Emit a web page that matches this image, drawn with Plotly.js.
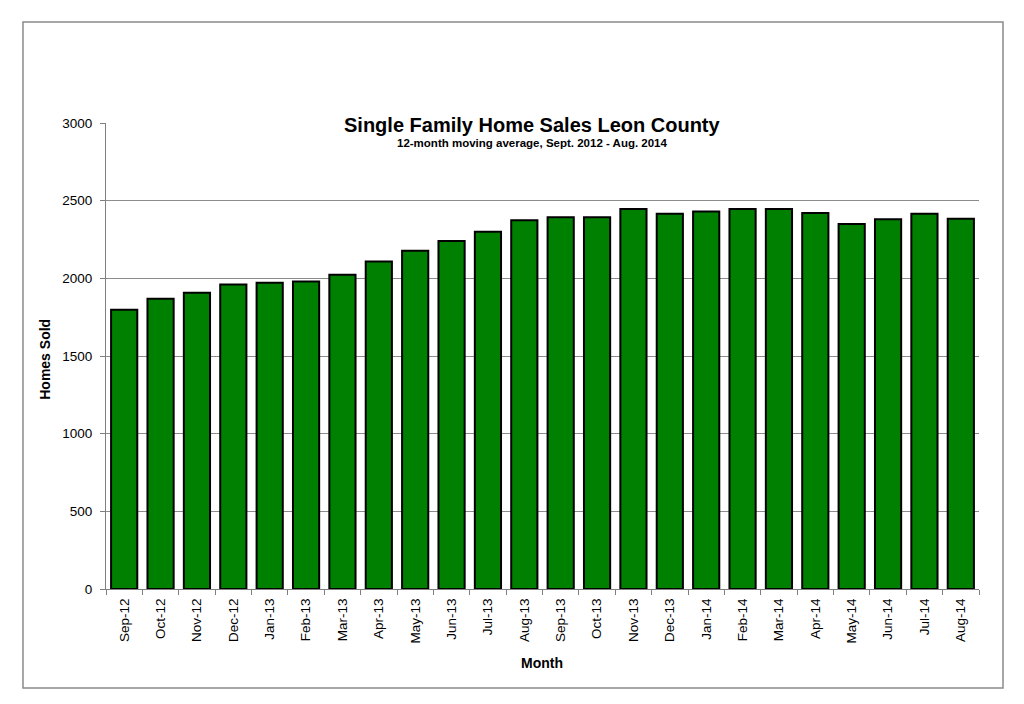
<!DOCTYPE html>
<html>
<head>
<meta charset="utf-8">
<script src="https://cdn.plot.ly/plotly-3.0.1.min.js"></script>
<style>
html,body{margin:0;padding:0;background:#fff;}
#chart{width:1024px;height:704px;}
</style>
</head>
<body>
<div id="chart"></div>
<script>
const months = ["Sep-12","Oct-12","Nov-12","Dec-12","Jan-13","Feb-13","Mar-13","Apr-13","May-13","Jun-13","Jul-13","Aug-13",
                "Sep-13","Oct-13","Nov-13","Dec-13","Jan-14","Feb-14","Mar-14","Apr-14","May-14","Jun-14","Jul-14","Aug-14"];
const homesSold = [1798,1868,1907,1960,1971,1979,2023,2108,2178,2240,2300,2374,
                   2393,2393,2447,2415,2430,2447,2447,2421,2350,2380,2415,2384];
const yTicks = [0,500,1000,1500,2000,2500,3000];

const FONT = "Liberation Sans, Arial, sans-serif";

const trace = {
  type: "bar",
  x: months,
  y: homesSold,
  marker: {color: "#008000", line: {color: "#000000", width: 2}},
  hoverinfo: "x+y"
};

const layout = {
  width: 1024,
  height: 704,
  paper_bgcolor: "#ffffff",
  plot_bgcolor: "#ffffff",
  margin: {l: 106, r: 45, t: 123, b: 115, pad: 0},
  bargap: 0.28,
  showlegend: false,
  font: {family: FONT, size: 13, color: "#000"},
  xaxis: {
    type: "category",
    showline: true,
    linecolor: "#808080",
    linewidth: 1,
    ticks: "outside",
    tickson: "boundaries",
    ticklen: 5,
    tickcolor: "#808080",
    tickangle: -90,
    ticklabelstandoff: 3,
    tickfont: {family: FONT, size: 13.5, color: "#000"},
    showgrid: false,
    fixedrange: true
  },
  yaxis: {
    range: [0, 3000],
    tickvals: yTicks,
    ticktext: yTicks.map(String),
    showline: true,
    linecolor: "#808080",
    linewidth: 1,
    ticks: "outside",
    ticklen: 5,
    tickcolor: "#808080",
    ticklabelstandoff: 5,
    tickfont: {family: FONT, size: 13.5, color: "#000"},
    showgrid: true,
    gridcolor: "#8c8c8c",
    gridwidth: 1,
    zeroline: false,
    fixedrange: true
  },
  annotations: [
    {text: "<b>Single Family Home Sales Leon County</b>", xref: "paper", yref: "paper",
     x: 0.488, y: 0.9957, xanchor: "center", yanchor: "middle", showarrow: false,
     font: {family: FONT, size: 20, color: "#000"}},
    {text: "<b>12-month moving average, Sept. 2012 - Aug. 2014</b>", xref: "paper", yref: "paper",
     x: 0.488, y: 0.957, xanchor: "center", yanchor: "middle", showarrow: false,
     font: {family: FONT, size: 11.5, color: "#000"}},
    {text: "<b>Homes Sold</b>", xref: "paper", yref: "paper",
     x: -0.0699, y: 0.494, xanchor: "center", yanchor: "middle", showarrow: false, textangle: -90,
     font: {family: FONT, size: 14, color: "#000"}},
    {text: "<b>Month</b>", xref: "paper", yref: "paper",
     x: 0.4994, y: -0.159, xanchor: "center", yanchor: "middle", showarrow: false,
     font: {family: FONT, size: 14, color: "#000"}}
  ],
  shapes: [
    {type: "rect", xref: "paper", yref: "paper",
     x0: -0.0951, x1: 1.0275, y0: -0.2124, y1: 1.2167,
     line: {color: "#8a8a8a", width: 1.5}, fillcolor: "rgba(0,0,0,0)", layer: "below"}
  ]
};

Plotly.newPlot("chart", [trace], layout, {displayModeBar: false, staticPlot: true});
</script>
</body>
</html>
